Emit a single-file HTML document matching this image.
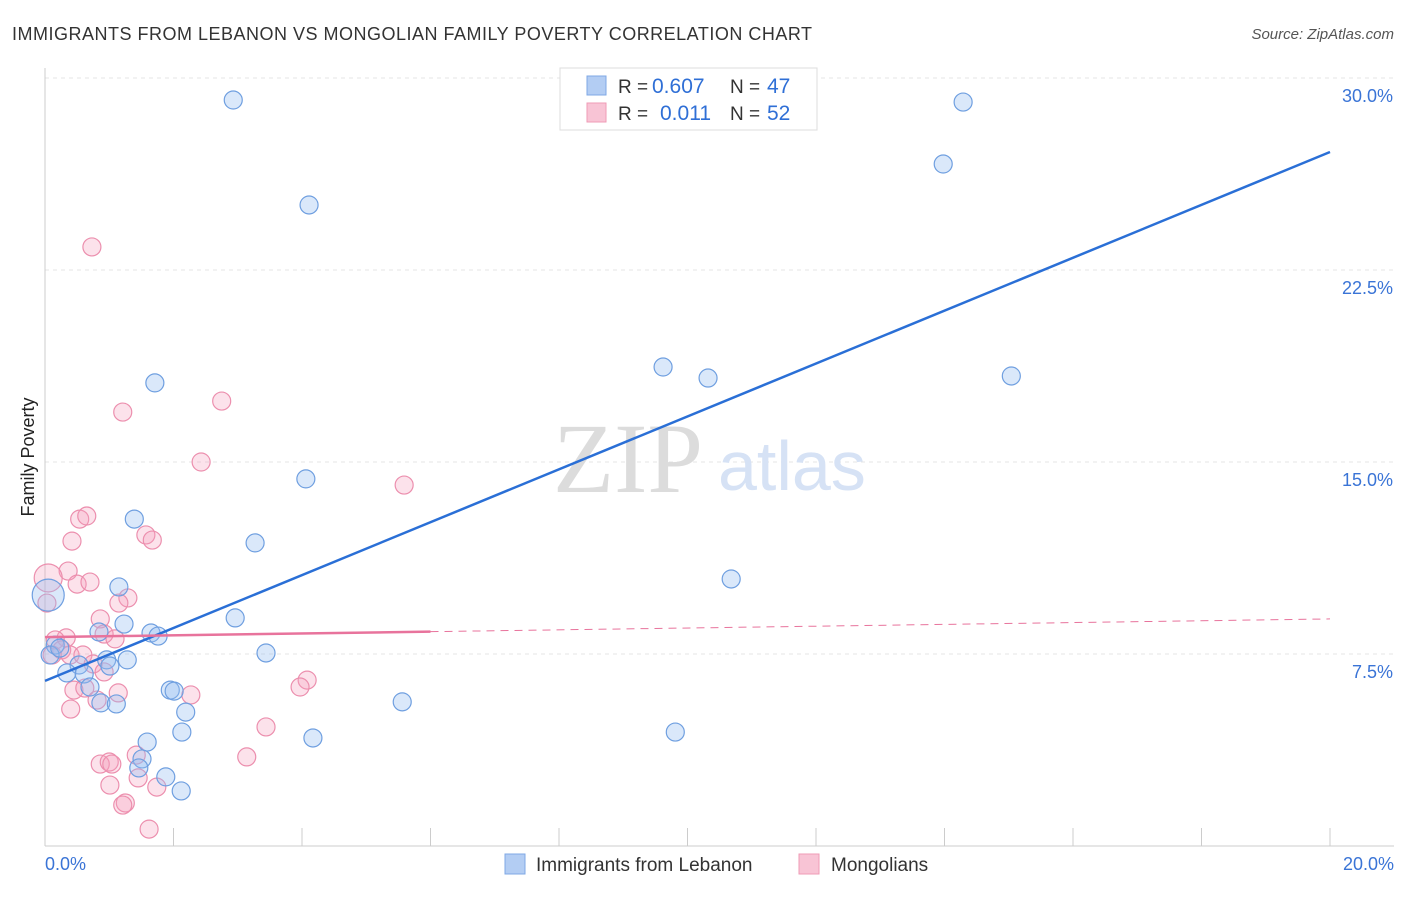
<!DOCTYPE html>
<html><head><meta charset="utf-8"><style>
body{margin:0;background:#fff;}
</style></head><body>
<svg id="c" width="1406" height="892" style="font-family:'Liberation Sans',sans-serif">
<text x="12" y="40" font-size="18" fill="#333" textLength="800">IMMIGRANTS FROM LEBANON VS MONGOLIAN FAMILY POVERTY CORRELATION CHART</text>
<text x="1394" y="39" font-size="15" fill="#555" font-style="italic" text-anchor="end">Source: ZipAtlas.com</text>
<text x="0" y="0" font-size="18" fill="#222" transform="translate(34,457) rotate(-90)" text-anchor="middle">Family Poverty</text>
<g id="grid"></g>
<text x="553" y="492" font-size="100" fill="#dcdcdc" style="font-family:'Liberation Serif',serif">ZIP</text>
<text x="718" y="490" font-size="70" fill="#d6e2f5">atlas</text>
<g id="marks"></g>
<g>
<rect x="560" y="68" width="257" height="62" fill="#fff" stroke="#ddd"/>
<rect x="587" y="76" width="19" height="19" fill="#b3cdf3" stroke="#7fa8e6"/>
<rect x="587" y="103" width="19" height="19" fill="#f8c4d5" stroke="#ef9bb6"/>
<text x="618" y="93" font-size="19" fill="#333">R =</text>
<text x="652" y="93" font-size="21" fill="#2f6fd6">0.607</text>
<text x="730" y="93" font-size="19" fill="#333">N =</text>
<text x="767" y="93" font-size="21" fill="#2f6fd6">47</text>
<text x="618" y="120" font-size="19" fill="#333">R =</text>
<text x="660" y="120" font-size="21" fill="#2f6fd6">0.011</text>
<text x="730" y="120" font-size="19" fill="#333">N =</text>
<text x="767" y="120" font-size="21" fill="#2f6fd6">52</text>
</g>
<g>
<rect x="505" y="854" width="20" height="20" fill="#b3cdf3" stroke="#7fa8e6"/>
<text x="536" y="871" font-size="19" fill="#333">Immigrants from Lebanon</text>
<rect x="799" y="854" width="20" height="20" fill="#f8c4d5" stroke="#ef9bb6"/>
<text x="831" y="871" font-size="19" fill="#333">Mongolians</text>
</g>
</svg>
<script>
const blueX=[2.93,4.11,1.71,9.62,10.32,13.98,14.29,15.04,4.06,3.27,10.68,1.39,1.15,1.23,2.96,1.65,1.76,0.84,3.44,0.96,1.28,1.01,0.53,0.34,0.61,0.70,1.95,2.01,2.19,0.87,1.11,5.56,9.81,2.13,4.17,1.59,1.51,1.46,1.88,2.12,0.16,0.08,0.23,0.05];
const blueY=[29.14,25.04,18.09,18.71,18.28,26.64,29.06,18.36,14.34,11.84,10.43,12.77,10.12,8.67,8.91,8.32,8.20,8.36,7.54,7.27,7.27,7.03,7.07,6.76,6.72,6.21,6.09,6.05,5.23,5.59,5.55,5.63,4.45,4.45,4.22,4.06,3.40,3.05,2.70,2.15,7.85,7.46,7.73,9.80];
const pinkX=[0.73,1.21,2.75,2.43,5.59,0.54,0.65,1.57,1.67,0.42,0.36,0.50,0.70,1.29,1.15,0.86,0.92,1.09,0.33,0.16,0.26,0.39,0.59,0.75,0.92,4.08,3.97,0.45,0.62,1.14,2.27,0.81,0.40,3.44,3.14,1.42,0.86,1.00,1.04,1.01,1.45,1.74,1.25,1.21,1.62,0.05,0.03,0.11];
const pinkY=[23.40,16.95,17.38,15.00,14.10,12.77,12.89,12.15,11.95,11.91,10.74,10.23,10.31,9.69,9.49,8.87,8.28,8.09,8.13,8.05,7.66,7.46,7.46,7.11,6.80,6.48,6.21,6.09,6.17,5.98,5.90,5.70,5.35,4.65,3.48,3.55,3.20,3.28,3.20,2.38,2.66,2.30,1.68,1.60,0.66,10.47,9.49,7.46];
const blueTrend=[6.45,27.11];
const pinkTrend=[8.16,8.87];
const yTicks=[7.5,15,22.5,30];
const yTickLabels=["7.5%","15.0%","22.5%","30.0%"];
const NS="http://www.w3.org/2000/svg";
const xs=v=>45+v/20*1285, ys=v=>846-v/7.5*192;
function mk(tag,at,parent){const e=document.createElementNS(NS,tag);for(const k in at)e.setAttribute(k,at[k]);document.getElementById(parent).appendChild(e);return e;}
yTicks.forEach((t,i)=>{
 const g=mk('line',{x1:45,x2:1394,y1:ys(t),y2:ys(t),stroke:'#e4e4e4','stroke-dasharray':'4,4'},'grid');
 
 
 const l=mk('text',{x:1393,y:ys(t)+24,'font-size':18,fill:'#3a74d6','text-anchor':'end'},'grid');
 l.textContent=yTickLabels[i];
 
 
});
let ax=mk('line',{x1:45,x2:45,y1:68,y2:846,stroke:'#ccc'},'grid');


ax=mk('line',{x1:45,x2:1394,y1:846,y2:846,stroke:'#ccc'},'grid');


for(let i=1;i<=10;i++){const t=mk('line',{x1:xs(i*2),x2:xs(i*2),y1:828,y2:846,stroke:'#ccc'},'grid');
 
 }
let xl=mk('text',{x:45,y:870,'font-size':18,fill:'#3a74d6'},'grid');xl.textContent="0.0%";


xl=mk('text',{x:1394,y:870,'font-size':18,fill:'#3a74d6','text-anchor':'end'},'grid');xl.textContent="20.0%";


pinkX.forEach((x,i)=>{const r=i==45?14:9;
 const c=mk('circle',{cx:xs(x),cy:ys(pinkY[i]),r:r,fill:'rgba(244,160,188,0.3)',stroke:'#ec8fae','stroke-width':1.2},'marks');
 
 });
blueX.forEach((x,i)=>{const r=i==43?16:9;
 const c=mk('circle',{cx:xs(x),cy:ys(blueY[i]),r:r,fill:'rgba(150,188,240,0.35)',stroke:'#6f9fe0','stroke-width':1.2},'marks');
 
 });
let ln=mk('line',{x1:xs(0),y1:ys(blueTrend[0]),x2:xs(20),y2:ys(blueTrend[1]),stroke:'#2a6fd6','stroke-width':2.5},'marks');


const pm=pinkTrend[0]+(pinkTrend[1]-pinkTrend[0])*6/20;
ln=mk('line',{x1:xs(0),y1:ys(pinkTrend[0]),x2:xs(6),y2:ys(pm),stroke:'#e8739c','stroke-width':2.5},'marks');


ln=mk('line',{x1:xs(6),y1:ys(pm),x2:xs(20),y2:ys(pinkTrend[1]),stroke:'#e8739c','stroke-width':1,'stroke-dasharray':'8,6'},'marks');


</script>
</body></html>
